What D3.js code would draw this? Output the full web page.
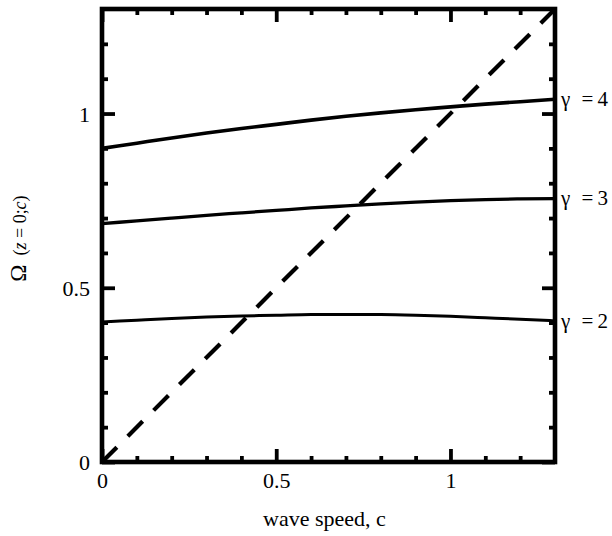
<!DOCTYPE html>
<html>
<head>
<meta charset="utf-8">
<script src="https://cdn.jsdelivr.net/npm/d3@7"></script>
<style>
  html, body { margin: 0; padding: 0; background: #fff; }
  svg { display: block; }
  text { font-family: "Liberation Serif", "Times New Roman", serif; fill: #000; }
</style>
</head>
<body>
<svg id="chart" width="612" height="536"></svg>
<script>
// wave speed samples along the x axis
const waveSpeed = [0, 0.1, 0.2, 0.3, 0.4, 0.5, 0.6, 0.7, 0.8, 0.9, 1.0, 1.1, 1.2, 1.3];

// Omega(z = 0; c) for each gamma
const omegaGamma2 = [0.402, 0.407, 0.412, 0.416, 0.419, 0.421, 0.423, 0.4235, 0.423, 0.421, 0.418, 0.414, 0.410, 0.405];
const omegaGamma3 = [0.684, 0.692, 0.700, 0.708, 0.715, 0.722, 0.729, 0.735, 0.741, 0.746, 0.750, 0.753, 0.755, 0.756];
const omegaGamma4 = [0.900, 0.915, 0.930, 0.944, 0.957, 0.969, 0.981, 0.992, 1.002, 1.011, 1.019, 1.027, 1.034, 1.041];

const gammas = [2, 3, 4];
const omegaSeries = [omegaGamma2, omegaGamma3, omegaGamma4];
const lineWidths = [3, 3.3, 3.6];

// reference line Omega = c
const diagonal = [0, 1.3];

// axis ticks
const majorTicks = [0, 0.5, 1];
const majorTickLabels = ["0", "0.5", "1"];
const minorTicks = [0.1, 0.2, 0.3, 0.4, 0.6, 0.7, 0.8, 0.9, 1.1, 1.2];

const svg = d3.select("#chart");
const x = d3.scaleLinear().domain([0, 1.3]).range([102, 555]);
const y = d3.scaleLinear().domain([0, 1.3]).range([462, 9]);

const fmt = d => majorTickLabels[majorTicks.indexOf(d)];

function styleAxis(g, w) {
  g.select(".domain").remove();
  g.selectAll(".tick line").attr("stroke", "#000").attr("stroke-width", w);
}

// bottom axis: major with labels, minor unlabeled, ticks pointing inward
svg.append("g").attr("transform", `translate(0,${y(0)})`)
  .call(d3.axisBottom(x).tickValues(majorTicks).tickSize(-13).tickPadding(26).tickFormat(fmt))
  .call(g => styleAxis(g, 3.8))
  .call(g => g.selectAll("text").attr("font-size", 22).attr("dy", 0));
svg.append("g").attr("transform", `translate(0,${y(0)})`)
  .call(d3.axisBottom(x).tickValues(minorTicks).tickSize(-6).tickFormat(""))
  .call(g => styleAxis(g, 3.8));

// top axis
svg.append("g").attr("transform", `translate(0,${y(1.3)})`)
  .call(d3.axisTop(x).tickValues(majorTicks).tickSize(-13).tickFormat(""))
  .call(g => styleAxis(g, 3.8));
svg.append("g").attr("transform", `translate(0,${y(1.3)})`)
  .call(d3.axisTop(x).tickValues(minorTicks).tickSize(-6).tickFormat(""))
  .call(g => styleAxis(g, 3.8));

// left axis
svg.append("g").attr("transform", `translate(${x(0)},0)`)
  .call(d3.axisLeft(y).tickValues(majorTicks).tickSize(-13).tickPadding(12).tickFormat(fmt))
  .call(g => styleAxis(g, 3.8))
  .call(g => g.selectAll("text").attr("font-size", 22).attr("dy", "0.34em"));
svg.append("g").attr("transform", `translate(${x(0)},0)`)
  .call(d3.axisLeft(y).tickValues(minorTicks).tickSize(-6).tickFormat(""))
  .call(g => styleAxis(g, 3.8));

// right axis
svg.append("g").attr("transform", `translate(${x(1.3)},0)`)
  .call(d3.axisRight(y).tickValues(majorTicks).tickSize(-13).tickFormat(""))
  .call(g => styleAxis(g, 3.8));
svg.append("g").attr("transform", `translate(${x(1.3)},0)`)
  .call(d3.axisRight(y).tickValues(minorTicks).tickSize(-6).tickFormat(""))
  .call(g => styleAxis(g, 3.8));

// Omega curves
const line = d3.line()
  .x((d, i) => x(waveSpeed[i]))
  .y(d => y(d))
  .curve(d3.curveMonotoneX);

svg.append("g").selectAll("path.curve")
  .data(omegaSeries)
  .join("path")
  .attr("class", "curve")
  .attr("d", d => line(d))
  .attr("fill", "none")
  .attr("stroke", "#000")
  .attr("stroke-width", (d, i) => lineWidths[i]);

// dashed line Omega = c
svg.append("path")
  .attr("d", d3.line().x(d => x(d)).y(d => y(d))(diagonal))
  .attr("fill", "none")
  .attr("stroke", "#000")
  .attr("stroke-width", 4.2)
  .attr("stroke-dasharray", "21,15.5");

// frame
svg.append("rect")
  .attr("x", x(0)).attr("y", y(1.3))
  .attr("width", x(1.3) - x(0)).attr("height", y(0) - y(1.3))
  .attr("fill", "none").attr("stroke", "#000").attr("stroke-width", 4.6);

// gamma labels at the right end of each curve
const labels = svg.append("g").selectAll("text.glabel")
  .data(gammas)
  .join("text")
  .attr("class", "glabel")
  .attr("font-size", 21)
  .attr("y", (g, i) => y(omegaSeries[i][omegaSeries[i].length - 1]))
  .attr("dy", "0.33em");
labels.append("tspan").attr("x", x(1.3) + 6).text("γ");
labels.append("tspan").attr("x", x(1.3) + 26.5).text("=");
labels.append("tspan").attr("x", x(1.3) + 42.5).text(g => g);

// axis titles
svg.append("text")
  .attr("x", (x(0) + x(1.3)) / 2 - 4)
  .attr("y", 526)
  .attr("text-anchor", "middle")
  .attr("font-size", 22)
  .text("wave speed, c");

const yt = svg.append("text")
  .attr("transform", `translate(26,${(y(0) + y(1.3)) / 2 + 3}) rotate(-90)`)
  .attr("text-anchor", "middle")
  .attr("font-size", 18);
yt.append("tspan").attr("font-size", 23).text("Ω");
yt.append("tspan").text("\u2002(");
yt.append("tspan").attr("font-style", "italic").text("z");
yt.append("tspan").text(" = 0;");
yt.append("tspan").attr("font-style", "italic").text("c");
yt.append("tspan").text(")");
</script>
</body>
</html>
